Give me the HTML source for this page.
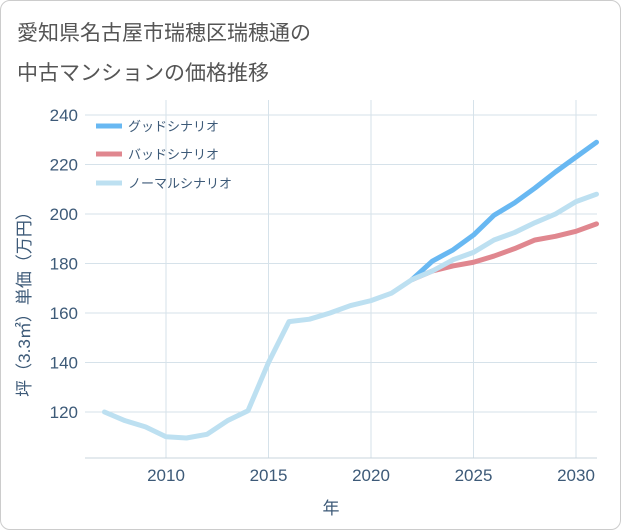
<!DOCTYPE html>
<html><head><meta charset="utf-8"><style>
body{margin:0;background:#fff;font-family:"Liberation Sans","Noto Sans CJK JP",sans-serif;}
#wrap{position:relative;width:619px;height:528px;border:1px solid #ccc;border-radius:10px;overflow:hidden;background:#fff;}
.title{position:absolute;left:16px;font-size:21px;color:#555;}
</style></head><body>
<div id="wrap">
<div class="title" style="top:16px">愛知県名古屋市瑞穂区瑞穂通の</div>
<div class="title" style="top:56px">中古マンションの価格推移</div>
<svg id="chart" width="621" height="530" style="position:absolute;left:-1px;top:-1px"></svg>
</div>
<script>
const years=[2007,2008,2009,2010,2011,2012,2013,2014,2015,2016,2017,2018,2019,2020,2021,2022,2023,2024,2025,2026,2027,2028,2029,2030,2031];
const normalVals=[120,116.5,114,110,109.5,111,116.5,120.5,140,156.5,157.5,160,163,165,168,173.5,177,181.5,184.5,189.5,192.5,196.5,200,205,208];
const futureYears=[2022,2023,2024,2025,2026,2027,2028,2029,2030,2031];
const goodVals=[173.5,181,185.5,191.5,199.5,204.5,210.5,217,223,229];
const badVals=[173.5,177,179,180.5,183,186,189.5,191,193,196];
const xTicks=[2010,2015,2020,2025,2030];
const yTicks=[120,140,160,180,200,220,240];
const NS="http://www.w3.org/2000/svg";
const svg=document.getElementById('chart');
const L=85,R=597,T=100,B=458;
const x=y=>166+(y-2010)*20.5;
const yv=v=>412-(v-120)*2.475;
function mk(t,a){const e=document.createElementNS(NS,t);for(const k in a)e.setAttribute(k,a[k]);svg.appendChild(e);return e;}
for(const t of yTicks){const l=mk('line',{x1:L,x2:R,y1:yv(t),y2:yv(t),stroke:'#d6e2ea','stroke-width':1});


const tx=mk('text',{x:78,y:yv(t)+6,'text-anchor':'end','font-size':17,fill:'#3d5a78','font-family':'Liberation Sans, sans-serif'});tx.textContent=t;

}
for(const t of xTicks){const l=mk('line',{x1:x(t),x2:x(t),y1:T,y2:B,stroke:'#d6e2ea','stroke-width':1});


const tx=mk('text',{x:x(t),y:481,'text-anchor':'middle','font-size':17,fill:'#3d5a78','font-family':'Liberation Sans, sans-serif'});tx.textContent=t;

}
const ax=mk('line',{x1:L,x2:R,y1:B,y2:B,stroke:'#c8d4dc'});


function line(xs,vs,c,name){const p=mk('polyline',{points:xs.map((t,i)=>x(t)+','+yv(vs[i])).join(' '),fill:'none',stroke:c,'stroke-width':5,'stroke-linejoin':'round','stroke-linecap':'round'});

}
line(futureYears,badVals,'#e0878f','bad-scenario-line');
line(futureYears,goodVals,'#68b8f2','good-scenario-line');
line(years,normalVals,'#bde0f1','normal-scenario-line');
const leg=[['グッドシナリオ','#68b8f2',126],['バッドシナリオ','#e0878f',154],['ノーマルシナリオ','#bde0f1',183]];
for(const [n,c,yy] of leg){const l=mk('line',{x1:96,x2:122,y1:yy,y2:yy,stroke:c,'stroke-width':5});


const t=mk('text',{x:128,y:yy+5,'font-size':13,fill:'#3d5a78'});t.textContent=n;

}
const yt=mk('text',{x:30,y:300,'text-anchor':'middle','font-size':17,fill:'#3d5a78',transform:'rotate(-90 30 300)'});yt.textContent='坪（3.3㎡）単価（万円）';


const xt=mk('text',{x:331,y:514,'text-anchor':'middle','font-size':17,fill:'#3d5a78'});xt.textContent='年';


</script>
</body></html>
